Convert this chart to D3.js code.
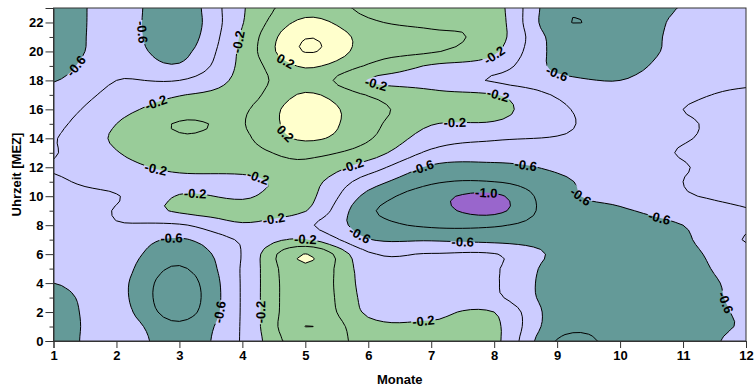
<!DOCTYPE html>
<html>
<head>
<meta charset="utf-8">
<script src="https://cdn.jsdelivr.net/npm/d3@7"></script>
<style>
  body { margin: 0; background: #fff; }
  text { font-family: Arial, "Liberation Sans", sans-serif; font-weight: bold; }
</style>
</head>
<body>
<svg id="chart" width="754" height="389"></svg>
<script>
// grid axes
const months = [1, 2, 3, 4, 5, 6, 7, 8, 9, 10, 11, 12];
const hours = d3.range(0, 24);

// values per month, hour 0 .. 23
const m01 = [-0.72, -0.71, -0.68, -0.65, -0.6, -0.56, -0.53, -0.5, -0.48, -0.46, -0.44, -0.42, -0.39, -0.41, -0.41, -0.44, -0.48, -0.53, -0.61, -0.68, -0.72, -0.74, -0.75, -0.75];
const m02 = [-0.45, -0.48, -0.52, -0.54, -0.54, -0.52, -0.5, -0.47, -0.41, -0.39, -0.41, -0.33, -0.27, -0.21, -0.17, -0.2, -0.27, -0.34, -0.4, -0.45, -0.5, -0.5, -0.5, -0.5];
const m03 = [-0.72, -0.76, -0.88, -0.92, -0.9, -0.82, -0.72, -0.62, -0.42, -0.17, -0.19, -0.26, -0.15, -0.05, -0.02, 0.015, -0.1, -0.21, -0.4, -0.58, -0.66, -0.72, -0.74, -0.73];
const m04 = [-0.38, -0.38, -0.38, -0.38, -0.38, -0.38, -0.39, -0.37, -0.22, -0.14, -0.22, -0.27, -0.12, -0.06, -0.03, -0.01, -0.03, -0.1, -0.14, -0.15, -0.15, -0.17, -0.21, -0.22];
const m05 = [0.14, 0.201, 0.16, 0.15, 0.15, 0.17, 0.205, -0.19, -0.36, -0.19, -0.14, -0.13, -0.05, 0.05, 0.23, 0.3, 0.3, 0.22, 0.12, 0.22, 0.41, 0.39, 0.25, 0.12];
const m06 = [-0.08, -0.14, -0.23, -0.26, -0.28, -0.3, -0.37, -0.59, -0.7, -0.76, -0.66, -0.5, -0.3, -0.1, 0.02, 0.06, 0.07, -0.01, -0.21, -0.02, 0.1, 0.12, 0.03, -0.05];
const m07 = [-0.1, -0.17, -0.24, -0.3, -0.32, -0.34, -0.39, -0.62, -0.83, -0.92, -0.92, -0.77, -0.63, -0.44, -0.3, -0.19, -0.1, -0.15, -0.28, -0.22, 0.02, 0.05, -0.05, -0.12];
const m08 = [-0.15, -0.16, -0.2, -0.36, -0.38, -0.38, -0.39, -0.66, -0.82, -1.05, -1.04, -0.8, -0.65, -0.5, -0.38, -0.22, -0.14, -0.19, -0.42, -0.3, -0.17, -0.1, -0.1, -0.12];
const m09 = [-0.81, -0.72, -0.7, -0.7, -0.7, -0.68, -0.64, -0.67, -0.7, -0.68, -0.66, -0.64, -0.57, -0.5, -0.41, -0.36, -0.36, -0.42, -0.55, -0.64, -0.66, -0.68, -0.76, -0.74];
const m10 = [-0.75, -0.75, -0.75, -0.74, -0.74, -0.73, -0.72, -0.7, -0.67, -0.62, -0.55, -0.5, -0.48, -0.47, -0.46, -0.47, -0.5, -0.55, -0.6, -0.67, -0.7, -0.7, -0.72, -0.7];
const m11 = [-0.72, -0.72, -0.72, -0.71, -0.7, -0.68, -0.66, -0.63, -0.6, -0.52, -0.42, -0.4, -0.41, -0.39, -0.41, -0.42, -0.4, -0.43, -0.46, -0.5, -0.54, -0.55, -0.56, -0.59];
const m12 = [-0.53, -0.58, -0.57, -0.55, -0.54, -0.5, -0.46, -0.39, -0.43, -0.41, -0.36, -0.34, -0.32, -0.33, -0.35, -0.34, -0.35, -0.38, -0.42, -0.45, -0.46, -0.47, -0.48, -0.5];
const columns = [m01, m02, m03, m04, m05, m06, m07, m08, m09, m10, m11, m12];

// contour levels
const fillLevels = [-1.0, -0.6, -0.2, 0.2];
const fillColors = ['#9966cc', '#649a98', '#ccccff', '#99cc99', '#ffffcc'];
const lineLevels = [-1.0, -0.8, -0.6, -0.4, -0.2, 0, 0.2, 0.4];

// contour labels: [month, hour, level]
const labels = [
  [1.35, 19.1, -0.6], [2.54, 21.4, -0.6], [3.86, 20.9, -0.2], [2.65, 16.9, -0.2],
  [4.73, 19.4, 0.2], [4.68, 14.4, 0.2], [6.14, 17.9, -0.2], [8.04, 19.8, -0.2],
  [8.04, 17.1, -0.2], [7.35, 15.4, -0.2], [5.76, 12.6, -0.2], [4.31, 11.3, -0.2],
  [2.62, 11.6, -0.2], [3.3, 10.0, -0.2], [4.55, 8.4, -0.2], [4.97, 7.05, -0.2],
  [4.3, 1.95, -0.2], [6.85, 1.25, -0.2], [2.9, 7.2, -0.6], [3.67, 2.15, -0.6],
  [5.84, 7.25, -0.6], [7.55, 6.8, -0.6], [6.85, 12.2, -0.6], [8.52, 12.4, -0.6],
  [7.82, 10.3, -1.0], [9.44, 10.3, -0.6], [10.66, 8.5, -0.6], [11.69, 2.6, -0.6],
  [9.04, 18.4, -0.6]
];

const yMajor = d3.range(0, 23, 2);
const yMinor = d3.range(1, 23, 2);

const W = 754, H = 389;
const FONT = 13;
const svg = d3.select('#chart');

const x = d3.scaleLinear().domain([1, 12]).range([53.5, 746]);
const y = d3.scaleLinear().domain([0, 23]).range([341, 8]);

// smooth the grid (Catmull-Rom) so the contours are not angular
const fx = 8, fy = 3;
function cr(v, t) {
  const i = Math.min(Math.floor(t), v.length - 2), f = t - i;
  const p0 = v[Math.max(i - 1, 0)], p1 = v[i], p2 = v[i + 1], p3 = v[Math.min(i + 2, v.length - 1)];
  return 0.5 * (2 * p1 + (-p0 + p2) * f + (2 * p0 - 5 * p1 + 4 * p2 - p3) * f * f + (-p0 + 3 * p1 - 3 * p2 + p3) * f * f * f);
}
const nx = (months.length - 1) * fx + 1, ny = (hours.length - 1) * fy + 1;
const colsUp = columns.map(col => d3.range(ny).map(j => cr(col, j / fy)));
const grid = new Array(nx * ny);
for (let j = 0; j < ny; j++) {
  const row = colsUp.map(c => c[j]);
  for (let i = 0; i < nx; i++) grid[j * nx + i] = cr(row, i / fx);
}

const toPx = (px, py) => [x(months[0] + (px - 0.5) / fx), y(hours[0] + (py - 0.5) / fy)];
const proj = d3.geoTransform({ point(px, py) { const p = toPx(px, py); this.stream.point(p[0], p[1]); } });
const path = d3.geoPath(proj);
const contours = d3.contours().size([nx, ny]);

const defs = svg.append('defs');
defs.append('clipPath').attr('id', 'plotClip')
  .append('rect')
  .attr('x', x(1)).attr('y', y(23))
  .attr('width', x(12) - x(1)).attr('height', y(0) - y(23));

// filled bands
const fills = svg.append('g').attr('clip-path', 'url(#plotClip)');
fills.append('rect')
  .attr('x', x(1)).attr('y', y(23))
  .attr('width', x(12) - x(1)).attr('height', y(0) - y(23))
  .attr('fill', fillColors[0]);
fills.selectAll('path')
  .data(fillLevels.map(l => contours.contour(grid, l)))
  .enter().append('path')
  .attr('d', path)
  .attr('fill', (d, i) => fillColors[i + 1])
  .attr('fill-rule', 'evenodd');

// label positions: nearest point on the computed contour of that level
const lineGeoms = new Map(lineLevels.map(l => [l, contours.contour(grid, l)]));
const placed = labels.map(([lm, lh, lev]) => {
  const tx = x(lm), ty = y(lh);
  let best = null, bestD = Infinity;
  lineGeoms.get(lev).coordinates.forEach(poly => poly.forEach(ring => {
    const pts = ring.map(p => toPx(p[0], p[1]));
    pts.forEach((p, k) => {
      if (p[0] < x(1) + 4 || p[0] > x(12) - 4 || p[1] < y(23) + 4 || p[1] > y(0) - 4) return;
      const d = (p[0] - tx) ** 2 + (p[1] - ty) ** 2;
      if (d < bestD) {
        bestD = d;
        const a = pts[(k - 2 + pts.length) % pts.length], b = pts[(k + 2) % pts.length];
        best = { p, angle: Math.atan2(b[1] - a[1], b[0] - a[0]) * 180 / Math.PI };
      }
    });
  }));
  if (!best || bestD > 30 * 30) best = { p: [tx, ty], angle: 0 };
  let ang = best.angle;
  if (ang > 90) ang -= 180;
  if (ang < -90) ang += 180;
  return { x: best.p[0], y: best.p[1], angle: ang, text: lev.toFixed(1) };
});

// mask that opens gaps in the lines under labels
const mask = defs.append('mask').attr('id', 'labelMask')
  .attr('maskUnits', 'userSpaceOnUse')
  .attr('x', 0).attr('y', 0).attr('width', W).attr('height', H);
mask.append('rect').attr('width', W).attr('height', H).attr('fill', 'white');

const labelG = svg.append('g');
const labelText = labelG.selectAll('text')
  .data(placed)
  .enter().append('text')
  .attr('transform', d => `translate(${d.x},${d.y}) rotate(${d.angle})`)
  .attr('text-anchor', 'middle')
  .attr('dy', '0.36em')
  .attr('font-size', FONT)
  .attr('fill', '#000')
  .text(d => d.text);
labelText.each(function (d) {
  const w = this.getComputedTextLength() + 2;
  mask.append('rect')
    .attr('x', -w / 2).attr('y', -6.5).attr('width', w).attr('height', 13)
    .attr('transform', `translate(${d.x},${d.y}) rotate(${d.angle})`)
    .attr('fill', 'black');
});

// contour lines
svg.insert('g', () => labelG.node())
  .attr('clip-path', 'url(#plotClip)')
  .append('g')
  .attr('mask', 'url(#labelMask)')
  .selectAll('path')
  .data(lineLevels.map(l => lineGeoms.get(l)))
  .enter().append('path')
  .attr('d', path)
  .attr('fill', 'none')
  .attr('stroke', '#000')
  .attr('stroke-width', 1);

// frame
svg.append('rect')
  .attr('x', x(1)).attr('y', y(23))
  .attr('width', x(12) - x(1)).attr('height', y(0) - y(23))
  .attr('fill', 'none').attr('stroke', '#333').attr('stroke-width', 1);

// axes
svg.append('g')
  .attr('transform', `translate(0,${y(0)})`)
  .call(d3.axisBottom(x).tickValues(months).tickSize(7).tickPadding(3).tickFormat(d3.format('d')));
svg.append('g')
  .attr('transform', `translate(${x(1)},0)`)
  .call(d3.axisLeft(y).tickValues(yMajor).tickSize(8).tickPadding(2).tickFormat(d3.format('d')));
svg.append('g')
  .attr('transform', `translate(${x(1)},0)`)
  .call(d3.axisLeft(y).tickValues(yMinor).tickSize(4).tickFormat(''))
  .call(g => g.select('.domain').remove());
svg.selectAll('.tick text').attr('font-size', FONT).attr('font-weight', 'bold').attr('fill', '#000')
  .attr('font-family', 'Arial, "Liberation Sans", sans-serif');
svg.selectAll('.tick line').attr('stroke', '#333');
svg.selectAll('.domain').attr('stroke', '#333');

// axis titles
svg.append('text')
  .attr('x', (x(1) + x(12)) / 2).attr('y', 384)
  .attr('text-anchor', 'middle').attr('font-size', FONT)
  .text('Monate');
svg.append('text')
  .attr('transform', `translate(21,${(y(0) + y(23)) / 2}) rotate(-90)`)
  .attr('text-anchor', 'middle').attr('font-size', FONT)
  .text('Uhrzeit [MEZ]');
</script>
</body>
</html>
